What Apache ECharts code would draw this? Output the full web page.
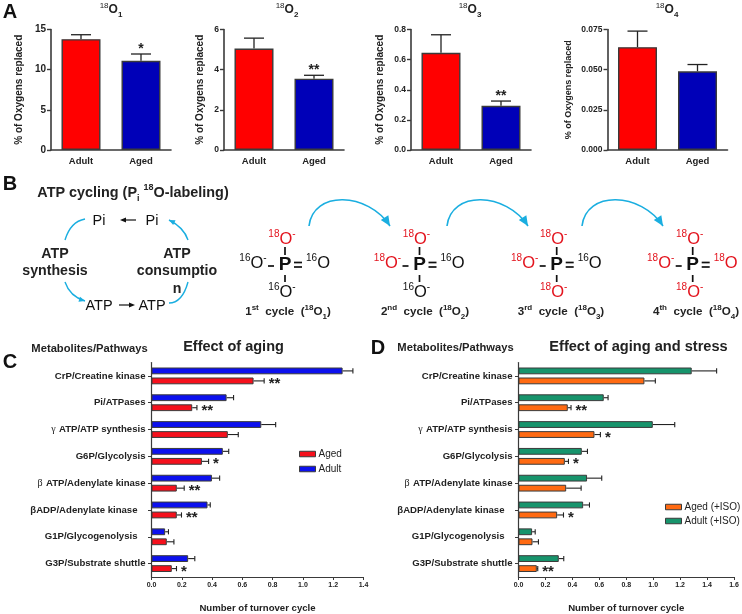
<!DOCTYPE html>
<html>
<head>
<meta charset="utf-8">
<style>html,body{margin:0;padding:0;background:#fff}#c{width:742px;height:614px}</style>
<script src="https://cdn.jsdelivr.net/npm/echarts@6/dist/echarts.min.js"></script>
</head>
<body>
<div id="c"></div>
<script>
// ---------- data ----------
const groupLabels = ['Adult', 'Aged'];
const o1Values = [13.8, 11.1];
const o1Upper = [14.35, 11.95];
const o1Sig = ['', '*'];
const o2Values = [5.05, 3.55];
const o2Upper = [5.57, 3.72];
const o2Sig = ['', '**'];
const o3Values = [0.645, 0.293];
const o3Upper = [0.765, 0.325];
const o3Sig = ['', '**'];
const o4Values = [0.064, 0.049];
const o4Upper = [0.074, 0.0532];
const o4Sig = ['', ''];

const pathways = ['CrP/Creatine kinase', 'Pi/ATPases', 'γ ATP/ATP synthesis', 'G6P/Glycolysis',
  'β ATP/Adenylate kinase', 'βADP/Adenylate kinase', 'G1P/Glycogenolysis', 'G3P/Substrate shuttle'];

const cAdult = [1.262, 0.496, 0.725, 0.471, 0.399, 0.37, 0.09, 0.242];
const cAdultUpper = [1.33, 0.542, 0.82, 0.51, 0.45, 0.388, 0.112, 0.286];
const cAged = [0.674, 0.269, 0.504, 0.333, 0.167, 0.167, 0.101, 0.134];
const cAgedUpper = [0.744, 0.30, 0.573, 0.377, 0.216, 0.198, 0.148, 0.165];
const cAgedSig = ['**', '**', '', '*', '**', '**', '', '*'];

const dAdult = [1.286, 0.633, 0.997, 0.47, 0.509, 0.48, 0.101, 0.299];
const dAdultUpper = [1.471, 0.665, 1.16, 0.512, 0.618, 0.527, 0.124, 0.336];
const dAged = [0.935, 0.366, 0.564, 0.344, 0.354, 0.287, 0.104, 0.136];
const dAgedUpper = [1.016, 0.39, 0.608, 0.371, 0.465, 0.334, 0.148, 0.143];
const dAgedSig = ['', '**', '*', '*', '', '*', '', '**'];

// ---------- style ----------
const FONT = '"Liberation Sans", Arial, sans-serif';
const INK = '#222222';
const AXIS = '#3a3a3a';
const RED = '#ff0000', NAVY = '#0000b8';
const C_RED = '#f5101c', C_BLUE = '#0c10ee';
const D_ORANGE = '#ff6a12', D_GREEN = '#17946c';

const grids = [], xAxes = [], yAxes = [], series = [];

function errBarV(api, w) {
  const top = api.coord([api.value(0), api.value(1)]);
  const end = api.coord([api.value(0), api.value(2)]);
  return [
    {type:'line', shape:{x1:top[0],y1:top[1],x2:end[0],y2:end[1]}, style:{stroke:INK,lineWidth:1.3}},
    {type:'line', shape:{x1:top[0]-w,y1:end[1],x2:top[0]+w,y2:end[1]}, style:{stroke:INK,lineWidth:1.3}}
  ];
}

function panelA(i, left, ymax, step, values, upper, sig, cfg) {
  grids.push({left, top:29.5, width:120, height:120.5, containLabel:false});
  xAxes.push({gridIndex:i, type:'category', data:groupLabels,
    axisLine:{lineStyle:{color:AXIS,width:1.6}}, axisTick:{show:false},
    axisLabel:{fontFamily:FONT,fontWeight:'bold',fontSize:9.5,color:INK,margin:6}});
  yAxes.push({gridIndex:i, type:'value', min:0, max:ymax, interval:step,
    name:'% of Oxygens replaced', nameLocation:'middle', nameGap:cfg.nameGap,
    nameTextStyle:{fontFamily:FONT,fontWeight:'bold',fontSize:cfg.nameSize,color:INK},
    splitLine:{show:false},
    axisLine:{show:true,lineStyle:{color:AXIS,width:1.6}},
    axisTick:{show:true,length:4,lineStyle:{color:AXIS,width:1.4}},
    axisLabel:{fontFamily:FONT,fontWeight:'bold',fontSize:cfg.tickSize,color:INK,margin:5,
      formatter:v => cfg.digits === 0 ? String(v) : v.toFixed(cfg.digits)}});
  series.push({type:'bar', xAxisIndex:i, yAxisIndex:i, barWidth:39, silent:true,
    data:values.map((v,k)=>({value:v,itemStyle:{color:k===0?RED:NAVY,borderColor:AXIS,borderWidth:1.4}}))});
  series.push({type:'custom', xAxisIndex:i, yAxisIndex:i, silent:true, clip:false,
    data:values.map((v,k)=>[k,v,upper[k],sig[k]]),
    encode:{x:0,y:2},
    renderItem:(p,api)=>{
      const kids = errBarV(api,10);
      const k = api.value(0);
      if (sig[k]) {
        const end = api.coord([k, api.value(2)]);
        kids.push({type:'text',style:{text:sig[k],x:end[0],y:end[1]-5,align:'center',verticalAlign:'middle',
          fill:INK,font:'bold 14px '+FONT}});
      }
      return {type:'group',children:kids};
    }});
}

function labelFormatter(v) {
  const shift = (v === 'βADP/Adenylate kinase' || v === 'G1P/Glycogenolysis') ? 's' : 'n';
  const m = v.match(/^([γβ]) (.*)$/);
  if (m) return '{g|'+m[1]+'} {n|'+m[2]+'}';
  return '{'+shift+'|'+v+'}';
}

function panelH(i, left, width, xmax, adult, adultUp, aged, agedUp, sig, names, colors, legendPos, gap) {
  grids.push({left, top:362.5, width, height:218});
  const labelRich = {
    n:{fontFamily:FONT,fontWeight:'bold',fontSize:9.6,color:INK},
    s:{fontFamily:FONT,fontWeight:'bold',fontSize:9.6,color:INK,padding:[0,8,0,0]},
    g:{fontFamily:'"Liberation Serif",serif',fontSize:10,color:INK}
  };
  xAxes.push({gridIndex:i, type:'value', min:0, max:xmax, interval:0.2,
    name:'Number of turnover cycle', nameLocation:'middle', nameGap:26,
    nameTextStyle:{fontFamily:FONT,fontWeight:'bold',fontSize:9.6,color:INK},
    splitLine:{show:false},
    axisLine:{show:true,lineStyle:{color:AXIS,width:1.2}},
    axisTick:{show:true,length:3,lineStyle:{color:AXIS,width:1}},
    axisLabel:{fontFamily:FONT,fontWeight:'bold',fontSize:7,color:INK,margin:5,formatter:v=>v.toFixed(1)}});
  yAxes.push({gridIndex:i, type:'category', inverse:true, data:pathways,
    axisLine:{show:true,lineStyle:{color:AXIS,width:1.2}},
    axisTick:{show:true,alignWithLabel:true,length:3.5,lineStyle:{color:AXIS,width:1}},
    axisLabel:{margin:6,formatter:labelFormatter,rich:labelRich}});
  series.push({type:'bar', name:names[1], xAxisIndex:i, yAxisIndex:i, barWidth:6.8, barGap:'47%', silent:true,
    data:adult, itemStyle:{color:colors[1],borderColor:AXIS,borderWidth:1}});
  series.push({type:'bar', name:names[0], xAxisIndex:i, yAxisIndex:i, barWidth:6.8, barGap:'47%', silent:true,
    data:aged, itemStyle:{color:colors[0],borderColor:AXIS,borderWidth:1}});
  const mk = (vals, ups, sign, sg) => ({type:'custom', xAxisIndex:i, yAxisIndex:i, silent:true, clip:false,
    data:vals.map((v,k)=>[v,k,ups[k]]), encode:{x:2,y:1},
    renderItem:(p,api)=>{
      const k = api.value(1);
      const a = api.coord([api.value(0),k]), b = api.coord([api.value(2),k]);
      const y = a[1]+sign*5;
      const kids = [
        {type:'line',shape:{x1:a[0],y1:y,x2:b[0],y2:y},style:{stroke:INK,lineWidth:1.1}},
        {type:'line',shape:{x1:b[0],y1:y-2.6,x2:b[0],y2:y+2.6},style:{stroke:INK,lineWidth:1.1}}
      ];
      if (sg && sg[k]) kids.push({type:'text',style:{text:sg[k],x:b[0]+4.5,y:y+3,align:'left',verticalAlign:'middle',
        fill:INK,font:'bold 15px '+FONT}});
      return {type:'group',children:kids};
    }});
  series.push(mk(adult,adultUp,-1,null));
  series.push(mk(aged,agedUp,1,sig));
  return {left:legendPos[0], top:legendPos[1], orient:'vertical', itemWidth:16, itemHeight:5.5, itemGap:gap,
    padding:0, selectedMode:false, data:names, icon:'rect',
    itemStyle:{borderColor:AXIS,borderWidth:1},
    textStyle:{fontFamily:FONT,fontSize:10,color:INK,padding:[0,0,0,-2]}};
}

panelA(0, 51, 15, 5, o1Values, o1Upper, o1Sig, {nameGap:27, nameSize:10, tickSize:10, digits:0});
panelA(1, 224, 6, 2, o2Values, o2Upper, o2Sig, {nameGap:19, nameSize:10, tickSize:8.5, digits:0});
panelA(2, 411, 0.8, 0.2, o3Values, o3Upper, o3Sig, {nameGap:26, nameSize:10, tickSize:8.5, digits:1});
panelA(3, 607.5, 0.075, 0.025, o4Values, o4Upper, o4Sig, {nameGap:34, nameSize:9, tickSize:8.5, digits:3});
const legC = panelH(4, 151.5, 212, 1.4, cAdult, cAdultUpper, cAged, cAgedUpper, cAgedSig, ['Aged','Adult'], [C_RED,C_BLUE], [299,449], 5);
const legD = panelH(5, 518.5, 215.5, 1.6, dAdult, dAdultUpper, dAged, dAgedUpper, dAgedSig, ['Aged (+ISO)','Adult (+ISO)'], [D_ORANGE,D_GREEN], [665,502], 4);

// ---------- text and schematic (panel B) ----------
const g = [];
const RICH = (color, size, supSize) => ({
  b:{fontFamily:FONT,fontWeight:'bold',fontSize:size,lineHeight:size+5,fill:color},
  n:{fontFamily:FONT,fontSize:size,lineHeight:size+5,fill:color},
  sb:{fontFamily:FONT,fontWeight:'bold',fontSize:supSize,verticalAlign:'top',lineHeight:size+5,fill:color},
  ub:{fontFamily:FONT,fontWeight:'bold',fontSize:supSize,verticalAlign:'bottom',lineHeight:size+5,fill:color},
  s:{fontFamily:FONT,fontSize:supSize,verticalAlign:'top',lineHeight:size+5,fill:color}
});
function txt(x,y,text,font,fill,align) {
  g.push({type:'text',style:{x,y,text,font:font+' '+FONT,fill:fill||INK,align:align||'center',verticalAlign:'middle'}});
}
function rich(x,y,text,color,size,sup,align) {
  g.push({type:'text',style:{x,y,text,rich:RICH(color,size,sup),align:align||'center',verticalAlign:'middle'}});
}
function curve(x1,y1,c1x,c1y,c2x,c2y,x2,y2,arrow,lw,head) {
  g.push({type:'bezierCurve',shape:{x1,y1,cpx1:c1x,cpy1:c1y,cpx2:c2x,cpy2:c2y,x2,y2},
    style:{stroke:'#1aaee0',lineWidth:lw,fill:'none'}});
  if (arrow) {
    const dx=x2-c2x, dy=y2-c2y, L=Math.hypot(dx,dy), ux=dx/L, uy=dy/L;
    g.push({type:'polygon',shape:{points:[[x2,y2],
      [x2-ux*head-uy*head*0.45, y2-uy*head+ux*head*0.45],
      [x2-ux*head+uy*head*0.45, y2-uy*head-ux*head*0.45]]},style:{fill:'#1aaee0'}});
  }
}
function blackArrow(x1,x2,y) {
  const s = x2>x1?1:-1;
  g.push({type:'line',shape:{x1,y1:y,x2:x2-s*3,y2:y},style:{stroke:'#111',lineWidth:1.2}});
  g.push({type:'polygon',shape:{points:[[x2,y],[x2-s*6,y-2.6],[x2-s*6,y+2.6]]},style:{fill:'#111'}});
}
function bond(x1,y1,x2,y2){g.push({type:'line',shape:{x1,y1,x2,y2},style:{stroke:'#111',lineWidth:1.7}});}

// panel letters and headings
txt(10,12,'A','bold 20px','#111'); txt(10,184,'B','bold 20px','#111'); txt(10,362,'C','bold 20px','#111'); txt(378,348,'D','bold 20px','#111');
rich(111,10,'{s|18}{b|O}{ub|1}',INK,12,8);
rich(287,10,'{s|18}{b|O}{ub|2}',INK,12,8);
rich(470,10,'{s|18}{b|O}{ub|3}',INK,12,8);
rich(667,10,'{s|18}{b|O}{ub|4}',INK,12,8);
rich(133,193,'{b|ATP cycling (P}{ub|i}{b| }{sb|18}{b|O-labeling)}',INK,14.4,9);
txt(89.5,349,'Metabolites/Pathways','bold 11.2px');
txt(233.5,347,'Effect of aging','bold 14.5px');
txt(455.5,348,'Metabolites/Pathways','bold 11.2px');
txt(638.5,347,'Effect of aging and stress','bold 14.6px');

// ATP cycle
txt(99,221,'Pi','14.5px','#111'); txt(152,221,'Pi','14.5px','#111');
txt(99,306,'ATP','14.5px','#111'); txt(152,306,'ATP','14.5px','#111');
blackArrow(136,120,220); blackArrow(119,135,305);
txt(55,254,'ATP','bold 14.2px'); txt(55,271,'synthesis','bold 14.2px');
txt(177,254,'ATP','bold 14.2px'); txt(177,271,'consumptio','bold 14.2px'); txt(177,289,'n','bold 14.2px');
curve(65,240,68,230,74,221,85,219,false,1.4,0);
curve(188,240,185,231,179,225,169,220,true,1.4,6);
curve(65,282,68,291,75,298,85,301,true,1.4,6);
curve(188,282,185,293,180,303,169,303,false,1.4,0);

// phosphate molecules
const R = '#e3141e', K = '#111';
function molecule(px, tops, cap, capX) {
  const py = 265;
  g.push({type:'text',style:{x:px,y:py,text:'P',font:'bold 19px '+FONT,fill:K,align:'center',verticalAlign:'middle'}});
  const atom = (x,y,a,minus) => g.push({type:'text',style:{x,y,align:'center',verticalAlign:'middle',
    text:'{t|'+a[1]+'}{o|O}'+(minus?'{t|-}':''),
    rich:{t:{fontFamily:FONT,fontSize:10,fill:a[0],verticalAlign:'top',lineHeight:19},
          o:{fontFamily:FONT,fontSize:16.5,fill:a[0],lineHeight:19}}}});
  atom(px-3,py-26,tops[0],true);
  atom(px-32,py-2,tops[1],true);
  atom(px+33,py-2,tops[2],false);
  atom(px-3,py+27,tops[3],true);
  bond(px,py-18,px,py-10); bond(px,py+10,px,py+17);
  bond(px-17,py+1,px-11,py+1);
  bond(px+9,py-2.5,px+17,py-2.5); bond(px+9,py+2,px+17,py+2);
  g.push({type:'text',style:{x:capX,y:312,align:'center',verticalAlign:'middle',text:cap,rich:RICH(INK,11.6,8)}});
}
const r18=[R,'18'], k16=[K,'16'];
molecule(285,[r18,k16,k16,k16],'{b|1}{sb|st}{b|  cycle  (}{sb|18}{b|O}{ub|1}{b|)}',288);
molecule(419.5,[r18,r18,k16,k16],'{b|2}{sb|nd}{b|  cycle  (}{sb|18}{b|O}{ub|2}{b|)}',425);
molecule(556.7,[r18,r18,k16,r18],'{b|3}{sb|rd}{b|  cycle  (}{sb|18}{b|O}{ub|3}{b|)}',561);
molecule(692.7,[r18,r18,r18,r18],'{b|4}{sb|th}{b|  cycle  (}{sb|18}{b|O}{ub|4}{b|)}',696);
curve(309,226,313,190,368,192,390,226,true,1.6,10);
curve(447,226,451,190,506,192,528,226,true,1.6,10);
curve(582,226,586,190,641,192,663,226,true,1.6,10);

const chart = echarts.init(document.getElementById('c'), null, {renderer:'canvas'});
chart.setOption({
  animation:false,
  backgroundColor:'#fff',
  legend:[legC, legD],
  grid:grids, xAxis:xAxes, yAxis:yAxes, series,
  graphic:{elements:g}
});
</script>
</body>
</html>
